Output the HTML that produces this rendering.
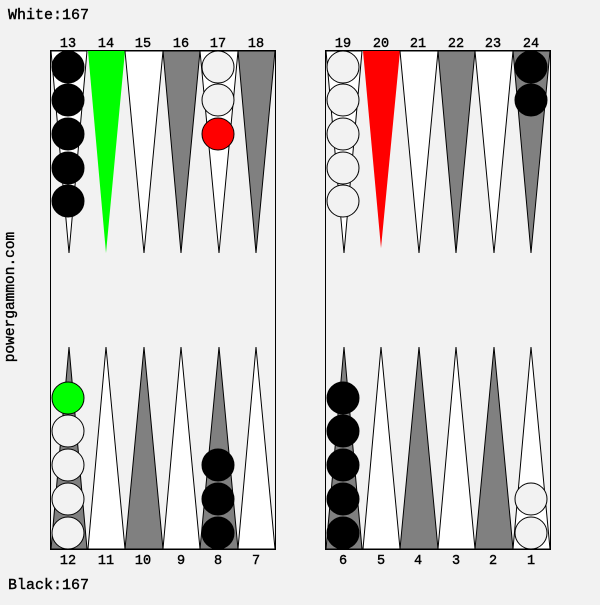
<!DOCTYPE html>
<html><head><style>body{margin:0;background:#f2f2f2}</style></head><body>
<svg width="600" height="600" xmlns="http://www.w3.org/2000/svg" font-family="Liberation Mono, monospace" font-size="13.5">
<rect width="600" height="600" fill="#f2f2f2"/>
<rect x="50.5" y="50.5" width="225" height="499" fill="#f2f2f2" stroke="#000"/>
<rect x="325.5" y="50.5" width="225" height="499" fill="#f2f2f2" stroke="#000"/>
<g stroke="#000" stroke-width="1">
<polygon points="51,51 87,51 69,253" fill="#fff"/>
<polygon points="88,51 125,51 106,253" fill="#00ff00" stroke="none"/>
<polygon points="125,51 163,51 144,253" fill="#fff"/>
<polygon points="163,51 200,51 181,253" fill="#808080"/>
<polygon points="200,51 238,51 219,253" fill="#fff"/>
<polygon points="238,51 275,51 256,253" fill="#808080"/>
<polygon points="326,51 362,51 344,253" fill="#fff"/>
<polygon points="363,51 400,51 381,248" fill="#ff0000" stroke="none"/>
<polygon points="400,51 438,51 419,253" fill="#fff"/>
<polygon points="438,51 475,51 456,253" fill="#808080"/>
<polygon points="475,51 513,51 494,253" fill="#fff"/>
<polygon points="513,51 550,51 531,253" fill="#808080"/>
<polygon points="51,549 87,549 69,347" fill="#808080"/>
<polygon points="88,549 125,549 106,347" fill="#fff"/>
<polygon points="125,549 163,549 144,347" fill="#808080"/>
<polygon points="163,549 200,549 181,347" fill="#fff"/>
<polygon points="200,549 238,549 219,347" fill="#808080"/>
<polygon points="238,549 275,549 256,347" fill="#fff"/>
<polygon points="326,549 362,549 344,347" fill="#808080"/>
<polygon points="363,549 400,549 381,347" fill="#fff"/>
<polygon points="400,549 438,549 419,347" fill="#808080"/>
<polygon points="438,549 475,549 456,347" fill="#fff"/>
<polygon points="475,549 513,549 494,347" fill="#808080"/>
<polygon points="513,549 550,549 531,347" fill="#fff"/>
</g>
<g stroke="#000" stroke-width="1">
<circle cx="68" cy="67" r="16"/><circle cx="68" cy="100" r="16"/><circle cx="68" cy="134" r="16"/><circle cx="68" cy="168" r="16"/><circle cx="68" cy="201" r="16"/>
<circle cx="218" cy="67" r="16" fill="#f2f2f2"/><circle cx="218" cy="100" r="16" fill="#f2f2f2"/><circle cx="218" cy="134" r="16" fill="#ff0000"/>
<circle cx="343" cy="67" r="16" fill="#f2f2f2"/><circle cx="343" cy="100" r="16" fill="#f2f2f2"/><circle cx="343" cy="134" r="16" fill="#f2f2f2"/><circle cx="343" cy="168" r="16" fill="#f2f2f2"/><circle cx="343" cy="201" r="16" fill="#f2f2f2"/>
<circle cx="531" cy="67" r="16"/><circle cx="531" cy="100" r="16"/>
<circle cx="68" cy="533" r="16" fill="#f2f2f2"/><circle cx="68" cy="499" r="16" fill="#f2f2f2"/><circle cx="68" cy="465" r="16" fill="#f2f2f2"/><circle cx="68" cy="431" r="16" fill="#f2f2f2"/><circle cx="68" cy="398" r="16" fill="#00ff00"/>
<circle cx="218" cy="533" r="16"/><circle cx="218" cy="499" r="16"/><circle cx="218" cy="465" r="16"/>
<circle cx="343" cy="533" r="16"/><circle cx="343" cy="499" r="16"/><circle cx="343" cy="465" r="16"/><circle cx="343" cy="431" r="16"/><circle cx="343" cy="398" r="16"/>
<circle cx="531" cy="533" r="16" fill="#f2f2f2"/><circle cx="531" cy="499" r="16" fill="#f2f2f2"/>
</g>
<g stroke="#000" stroke-width="0.4">
<g text-anchor="middle">
<text x="68" y="47">13</text><text x="106" y="47">14</text><text x="143" y="47">15</text><text x="181" y="47">16</text><text x="218" y="47">17</text><text x="256" y="47">18</text>
<text x="343" y="47">19</text><text x="381" y="47">20</text><text x="418" y="47">21</text><text x="456" y="47">22</text><text x="493" y="47">23</text><text x="531" y="47">24</text>
<text x="68" y="564">12</text><text x="106" y="564">11</text><text x="143" y="564">10</text><text x="181" y="564">9</text><text x="218" y="564">8</text><text x="256" y="564">7</text>
<text x="343" y="564">6</text><text x="381" y="564">5</text><text x="418" y="564">4</text><text x="456" y="564">3</text><text x="493" y="564">2</text><text x="531" y="564">1</text>
</g>
<text x="8" y="19" font-size="15">White:167</text>
<text x="8" y="589" font-size="15">Black:167</text>
<text transform="translate(14,297) rotate(-90)" text-anchor="middle" font-size="14.5">powergammon.com</text>
</g>
</svg>
</body></html>
